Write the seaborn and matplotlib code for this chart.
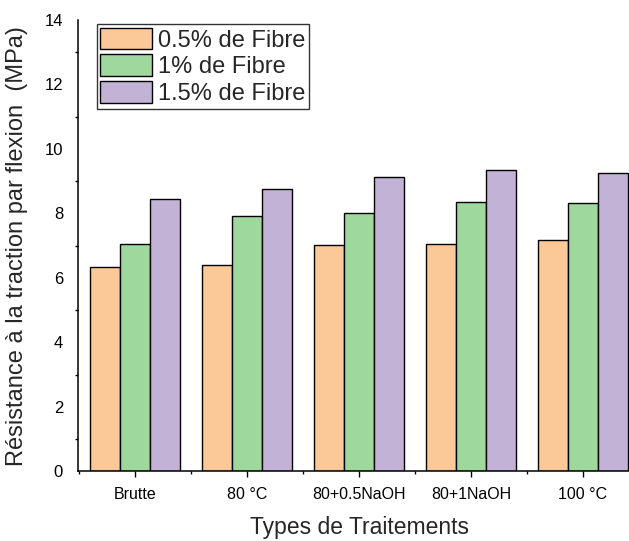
import numpy as np
import pandas as pd
import matplotlib
matplotlib.use("Agg")
import matplotlib.pyplot as plt
from matplotlib.ticker import FixedLocator, MultipleLocator
import seaborn as sns

categories = ["Brutte", "80 °C", "80+0.5NaOH", "80+1NaOH", "100 °C"]
series_names = ["0.5% de Fibre", "1% de Fibre", "1.5% de Fibre"]
fibre_05 = [6.33, 6.41, 7.02, 7.05, 7.18]
fibre_1 = [7.04, 7.93, 8.00, 8.37, 8.34]
fibre_15 = [8.46, 8.77, 9.13, 9.36, 9.24]
colors = ["#FBC897", "#9ED89C", "#C2B3D6"]

sns.set_style("ticks")
plt.rcParams["font.family"] = ["Liberation Sans", "DejaVu Sans"]

rows = []
for name, vals in zip(series_names, [fibre_05, fibre_1, fibre_15]):
    for c, v in zip(categories, vals):
        rows.append({"Traitement": c, "Serie": name, "Valeur": v})
df = pd.DataFrame(rows)

fig = plt.figure(figsize=(6.29, 5.41), dpi=100)
ax = fig.add_axes([0.1245, 0.1285, 0.8925, 0.8346])

sns.barplot(data=df, x="Traitement", y="Valeur", hue="Serie",
            order=categories, hue_order=series_names,
            palette=colors, width=0.8, gap=0, errorbar=None,
            edgecolor="black", linewidth=1.0, saturation=1, ax=ax)

ax.set_xlim(-0.508, 4.508)
ax.set_ylim(0, 14)
ax.set_yticks(np.arange(0, 15, 2))
ax.yaxis.set_minor_locator(FixedLocator(np.arange(1, 14, 2)))
ax.xaxis.set_minor_locator(FixedLocator(np.arange(-0.5, 5, 1.0)))

for s in ["top", "right"]:
    ax.spines[s].set_visible(False)
for s in ["left", "bottom"]:
    ax.spines[s].set_linewidth(1.1)
    ax.spines[s].set_color("black")

ax.tick_params(axis="y", which="major", length=0, pad=11, labelsize=12, colors="black")
ax.tick_params(axis="y", which="minor", length=2.5, width=1.0, direction="out", color="black")
ax.tick_params(axis="x", which="major", length=4, width=1.0, direction="out", pad=7, labelsize=11.5, colors="black")
ax.tick_params(axis="x", which="minor", length=2.5, width=1.0, direction="out", color="black")

ax.set_xlabel("Types de Traitements", fontsize=16.5, labelpad=10)
ax.set_ylabel("Résistance à la traction par flexion  (MPa)", fontsize=17, labelpad=12)

leg = ax.legend(loc="upper left", bbox_to_anchor=(0.0328, 0.991), borderaxespad=0,
                fontsize=17, frameon=True, fancybox=False, framealpha=1,
                edgecolor="#333333", handlelength=2.2, handleheight=1.05,
                handletextpad=0.25, labelspacing=0.12, borderpad=0.15)
leg.get_frame().set_linewidth(1.0)

fig.savefig("out.png", dpi=100)
